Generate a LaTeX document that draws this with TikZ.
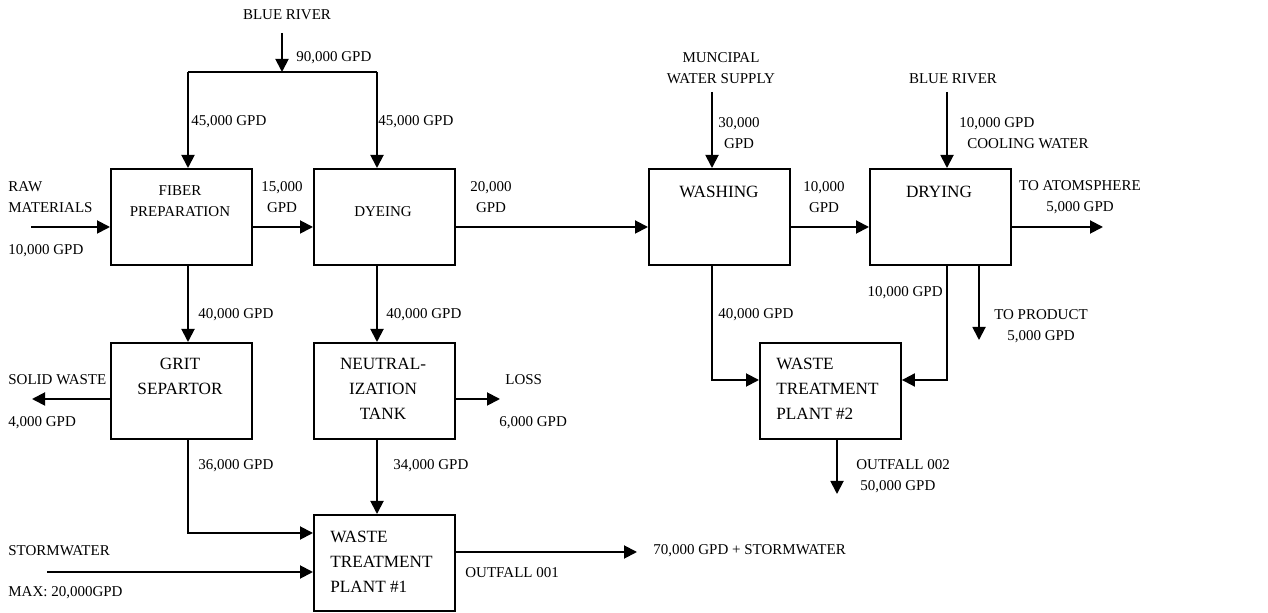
\documentclass[tikz,border=0pt]{standalone}
\usepackage{fontspec}
\setmainfont{Liberation Serif}
\usetikzlibrary{arrows.meta}
\begin{document}
\begin{tikzpicture}[x=0.5pt,y=-0.5pt,
  box/.style={draw, line width=0.95pt, minimum width=70.5pt, minimum height=48pt, inner sep=0pt, anchor=north west},
  sm/.style={inner sep=0pt, font=\fontsize{7.5pt}{10.5pt}\selectfont},
  big/.style={inner sep=0pt, font=\fontsize{8.6pt}{12.5pt}\selectfont},
  ln/.style={line width=0.95pt},
  arr/.style={line width=0.95pt, -{Triangle[length=6.5pt,width=6.5pt]}}]
\useasboundingbox (0,0) rectangle (1268,613);
% boxes
\node[box] (fiber) at (110,168) {};
\node[box] (dye) at (313,168) {};
\node[box] (wash) at (648,168) {};
\node[box] (dry) at (869,168) {};
\node[box] (grit) at (110,342) {};
\node[box] (neut) at (313,342) {};
\node[box] (wtpb) at (759,342) {};
\node[box] (wtpa) at (313,514) {};
% box texts
\node[sm, align=center] (tfiber) at (180,201) {FIBER\\PREPARATION};
\node[sm] (tdye) at (383,212) {DYEING};
\node[big] (twash) at (719,192) {WASHING};
\node[big] (tdry) at (939,192) {DRYING};
\node[big, align=center] (tgrit) at (180,376.5) {GRIT\\SEPARTOR};
\node[big, align=center] (tneut) at (383,389) {NEUTRAL-\\IZATION\\TANK};
\node[big, align=left, anchor=west] (twa) at (330,562) {WASTE\\TREATMENT\\PLANT \#1};
\node[big, align=left, anchor=west] (twb) at (776,389) {WASTE\\TREATMENT\\PLANT \#2};
% coordinates
\coordinate (br1) at (282,33);
\coordinate (jt) at (282,72);
\coordinate (jl) at (188,72);
\coordinate (jr) at (377,72);
\coordinate (raw) at (31,227);
\coordinate (atm) at (1103,227);
\coordinate (muni) at (712,92);
\coordinate (br2) at (947,92);
\coordinate (solid) at (32,399);
\coordinate (loss) at (500,399);
\coordinate (gc) at (188,533);
\coordinate (storm) at (47,572);
\coordinate (out1) at (637,552);
\coordinate (wc) at (712,380);
\coordinate (dc) at (947,380);
\coordinate (prod) at (979,340);
\coordinate (out2) at (837,494);
% connectors
\draw[arr] (br1) -- (jt);
\draw[ln] (jl) -- (jr);
\draw[arr] (jl) -- (jl |- fiber.north);
\draw[arr] (jr) -- (jr |- dye.north);
\draw[arr] (raw) -- (raw -| fiber.west);
\draw[arr] (raw -| fiber.east) -- (raw -| dye.west);
\draw[arr] (raw -| dye.east) -- (raw -| wash.west);
\draw[arr] (raw -| wash.east) -- (raw -| dry.west);
\draw[arr] (atm -| dry.east) -- (atm);
\draw[arr] (muni) -- (muni |- wash.north);
\draw[arr] (br2) -- (br2 |- dry.north);
\draw[arr] (jl |- fiber.south) -- (jl |- grit.north);
\draw[arr] (jr |- dye.south) -- (jr |- neut.north);
\draw[arr] (solid -| grit.west) -- (solid);
\draw[arr] (loss -| neut.east) -- (loss);
\draw[arr] (gc |- grit.south) -- (gc) -- (gc -| wtpa.west);
\draw[arr] (jr |- neut.south) -- (jr |- wtpa.north);
\draw[arr] (storm) -- (storm -| wtpa.west);
\draw[arr] (out1 -| wtpa.east) -- (out1);
\draw[arr] (wc |- wash.south) -- (wc) -- (wc -| wtpb.west);
\draw[arr] (dc |- dry.south) -- (dc) -- (dc -| wtpb.east);
\draw[arr] (prod |- dry.south) -- (prod);
\draw[arr] (out2 |- wtpb.south) -- (out2);
% labels
\node[sm] (l1) at (287,15) {BLUE RIVER};
\node[sm, anchor=west] (l2) at (296,58) {90,000 GPD};
\node[sm, anchor=west] (l3) at (191,122) {45,000 GPD};
\node[sm, anchor=west] (l4) at (378,122) {45,000 GPD};
\node[sm, anchor=west, align=left] (l5) at (8,197.5) {RAW\\MATERIALS};
\node[sm, anchor=west] (l6) at (8,251) {10,000 GPD};
\node[sm, align=center] (l7) at (282,197.5) {15,000\\GPD};
\node[sm, align=center] (l8) at (491,197.5) {20,000\\GPD};
\node[sm, align=center] (l9) at (721,68.5) {MUNCIPAL\\WATER SUPPLY};
\node[sm, align=center] (l10) at (739,133) {30,000\\GPD};
\node[sm, align=center] (l11) at (824,197.5) {10,000\\GPD};
\node[sm] (l12) at (953,79) {BLUE RIVER};
\node[sm, anchor=west, align=left] (l13) at (959,133) {10,000 GPD\\\hspace*{4pt}COOLING WATER};
\node[sm, align=center] (l14) at (1080,197.5) {TO ATOMSPHERE\\5,000 GPD};
\node[sm, anchor=east] (l15) at (943,293) {10,000 GPD};
\node[sm, anchor=west] (l16) at (198,315) {40,000 GPD};
\node[sm, anchor=west] (l17) at (386,315) {40,000 GPD};
\node[sm, anchor=west] (l18) at (718,315) {40,000 GPD};
\node[sm, align=center] (l19) at (1041,326) {TO PRODUCT\\5,000 GPD};
\node[sm, anchor=west] (l20) at (8,380) {SOLID WASTE};
\node[sm, anchor=west] (l21) at (8,423) {4,000 GPD};
\node[sm, anchor=west] (l22) at (505,380) {LOSS};
\node[sm, anchor=west] (l23) at (499,423) {6,000 GPD};
\node[sm, anchor=west] (l24) at (198,466) {36,000 GPD};
\node[sm, anchor=west] (l25) at (393,466) {34,000 GPD};
\node[sm, anchor=west, align=left] (l26) at (856,476.5) {OUTFALL 002\\\hspace*{2pt}50,000 GPD};
\node[sm, anchor=west] (l27) at (8,551) {STORMWATER};
\node[sm, anchor=west] (l28) at (8,593) {MAX: 20,000GPD};
\node[sm, anchor=west] (l29) at (465,573) {OUTFALL 001};
\node[sm, anchor=west] (l30) at (653,551) {70,000 GPD + STORMWATER};
\end{tikzpicture}
\end{document}
